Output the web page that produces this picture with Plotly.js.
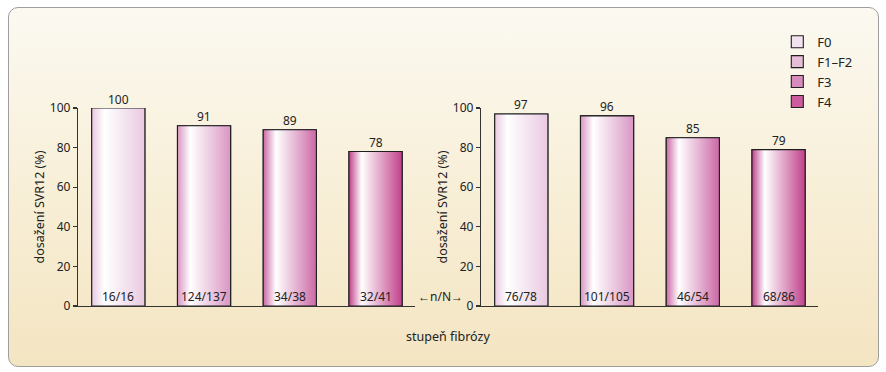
<!DOCTYPE html>
<html>
<head>
<meta charset="utf-8">
<script src="https://cdn.plot.ly/plotly-3.0.1.min.js"></script>
<style>
  html, body { margin: 0; padding: 0; background: #ffffff; }
  #frame {
    position: absolute; left: 8px; top: 7px; width: 871px; height: 360px;
    box-sizing: border-box; border: 1.5px solid #9e9e9e; border-radius: 10px;
    background: linear-gradient(to bottom, #fbf9f1 0%, #f8efd8 50%, #f4e5c2 100%);
  }
  #chart { position: absolute; left: 0; top: 0; width: 886px; height: 372px; }
</style>
</head>
<body>
<div id="frame"></div>
<div id="chart"></div>
<script>
// ---- data ----
const categories = ['F0', 'F1–F2', 'F3', 'F4'];
const svrLeft = [100, 91, 89, 78];
const svrRight = [97, 96, 85, 79];
const nNLeft = ['16/16', '124/137', '34/38', '32/41'];
const nNRight = ['76/78', '101/105', '46/54', '68/86'];
const yTicks = [0, 20, 40, 60, 80, 100];

// ---- styles ----
const edgeColors = ['#e9c9e1', '#d996c3', '#cb68a5', '#c1418b'];
const legendColors = ['#f3e2ef', '#e6bcd9', '#d98bbd', '#cc5c9e'];
const barWidth = 0.62;
const FONT = 'Noto Sans, Open Sans, sans-serif';
const TXT = '#222222';

const traces = [];
const annotations = [];
const panels = [
  { vals: svrLeft, nn: nNLeft, xa: 'x', ya: 'y', legend: true },
  { vals: svrRight, nn: nNRight, xa: 'x2', ya: 'y2', legend: false }
];

panels.forEach(p => {
  // base bars (also give the legend entries)
  categories.forEach((c, i) => {
    traces.push({
      type: 'bar', x: [i], y: [p.vals[i]], width: barWidth,
      name: c, showlegend: p.legend,
      marker: { color: legendColors[i], line: { color: '#1e1e1e', width: 1.1 } },
      xaxis: p.xa, yaxis: p.ya, hoverinfo: 'y'
    });
  });
  // gradient overlay for each bar, derived from the same value
  categories.forEach((c, i) => {
    const x0 = i - barWidth / 2, x1 = i + barWidth / 2, v = p.vals[i];
    traces.push({
      type: 'scatter', mode: 'lines',
      x: [x0, x1, x1, x0, x0], y: [0, 0, v, v, 0],
      fill: 'toself',
      fillgradient: {
        type: 'horizontal',
        colorscale: [[0, edgeColors[i]], [0.24, '#ffffff'], [1, edgeColors[i]]]
      },
      line: { color: '#1e1e1e', width: 1.1 },
      showlegend: false, hoverinfo: 'skip',
      xaxis: p.xa, yaxis: p.ya
    });
  });
  // value labels and n/N labels
  categories.forEach((c, i) => {
    annotations.push({
      text: String(p.vals[i]), xref: p.xa, yref: p.ya, x: i, y: p.vals[i],
      xanchor: 'center', yanchor: 'middle', yshift: 9, showarrow: false,
      font: { family: FONT, size: 12, color: TXT }
    });
    annotations.push({
      text: p.nn[i], xref: p.xa, yref: p.ya, x: i, y: 0,
      xanchor: 'center', yanchor: 'middle', yshift: 10, showarrow: false,
      font: { family: FONT, size: 12, color: TXT }
    });
  });
});

annotations.push(
  { text: 'stupeň fibrózy', xref: 'paper', yref: 'paper', x: 0.5, y: 0,
    xanchor: 'center', yanchor: 'middle', yshift: -30, showarrow: false,
    font: { family: FONT, size: 12.5, color: TXT } },
  { text: '←n/N→', xref: 'paper', yref: 'y2', x: 0.4905, y: 0,
    xanchor: 'center', yanchor: 'middle', yshift: 10, showarrow: false,
    font: { family: FONT, size: 12, color: TXT } }
);

const xAxisBase = {
  range: [-0.47, 3.46], showline: true, linecolor: '#333', linewidth: 1.2,
  showticklabels: false, ticks: '', showgrid: false, zeroline: false, fixedrange: true
};
const yAxisBase = {
  range: [0, 100], tickvals: yTicks, showline: true, linecolor: '#333', linewidth: 1.2,
  ticks: 'outside', ticklen: 4, tickcolor: '#333', tickwidth: 1.2,
  showgrid: false, zeroline: false, fixedrange: true,
  tickfont: { family: FONT, size: 12, color: TXT },
  title: { text: 'dosažení SVR12 (%)', font: { family: FONT, size: 12.5, color: TXT }, standoff: 2 }
};

const layout = {
  width: 886, height: 372,
  margin: { l: 78, r: 68, t: 108, b: 66 },
  paper_bgcolor: 'rgba(0,0,0,0)', plot_bgcolor: 'rgba(0,0,0,0)',
  barmode: 'overlay', showlegend: true,
  font: { family: FONT, size: 12, color: TXT },
  xaxis: Object.assign({}, xAxisBase, { domain: [0, 0.4554], anchor: 'y' }),
  xaxis2: Object.assign({}, xAxisBase, { domain: [0.5446, 1], anchor: 'y2' }),
  yaxis: Object.assign({}, yAxisBase, { anchor: 'x' }),
  yaxis2: Object.assign({}, yAxisBase, { anchor: 'x2' }),
  legend: {
    x: 0.945, y: 1.41, xanchor: 'left', yanchor: 'top',
    bgcolor: 'rgba(0,0,0,0)', borderwidth: 0,
    font: { family: FONT, size: 13, color: TXT }, tracegroupgap: 0
  },
  annotations: annotations
};

Plotly.newPlot('chart', traces, layout, { displayModeBar: false, staticPlot: true });
</script>
</body>
</html>
